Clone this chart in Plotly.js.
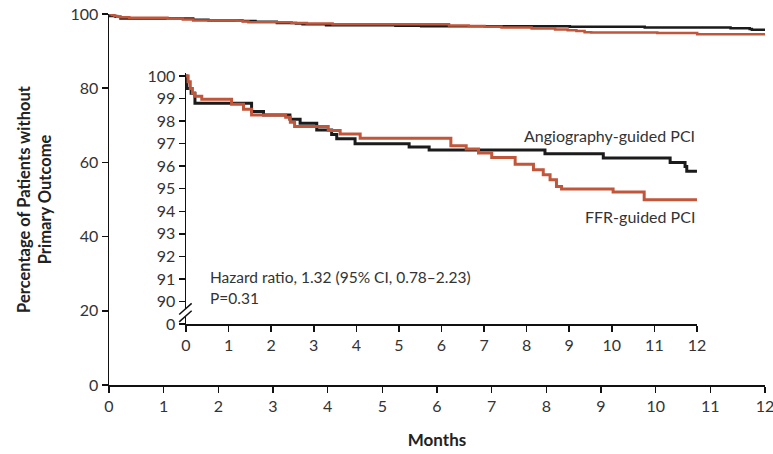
<!DOCTYPE html>
<html>
<head>
<meta charset="utf-8">
<script src="https://cdn.plot.ly/plotly-3.0.1.min.js"></script>
<style>html,body{margin:0;padding:0;background:#fff;}#chart{width:773px;height:454px;}</style>
</head>
<body>
<div id="chart"></div>
<script>
// Kaplan-Meier step data (months, % without primary outcome)
const angioMonths = [0, 0.02, 0.12, 0.21, 1.54, 1.82, 2.44, 2.68, 3.07, 3.42, 3.54, 3.97, 5.24, 5.71, 8.43, 9.80, 11.37, 11.72, 11.76, 12];
const angioValues = [100, 99.45, 99.23, 98.79, 98.42, 98.27, 98.08, 97.90, 97.60, 97.41, 97.22, 97.00, 96.85, 96.72, 96.55, 96.36, 96.16, 95.99, 95.77, 95.77];
const ffrMonths = [0, 0.05, 0.10, 0.15, 0.20, 0.37, 1.07, 1.35, 1.54, 2.34, 2.45, 2.55, 3.34, 3.62, 4.09, 6.22, 6.58, 6.87, 7.18, 7.73, 8.16, 8.39, 8.55, 8.70, 8.82, 10.03, 10.76, 12];
const ffrValues = [100, 99.75, 99.45, 99.25, 99.10, 98.97, 98.75, 98.53, 98.27, 98.17, 97.95, 97.76, 97.58, 97.43, 97.24, 96.91, 96.76, 96.58, 96.39, 96.09, 95.84, 95.62, 95.40, 95.10, 94.99, 94.86, 94.51, 94.51];

const monthTicks = [0,1,2,3,4,5,6,7,8,9,10,11,12];
const mainYTicks = [0,20,40,60,80,100];
const insetYTickVals = [89,90,91,92,93,94,95,96,97,98,99,100];
const insetYTickText = ["0","90","91","92","93","94","95","96","97","98","99","100"];

const seriesNames = ["Angiography-guided PCI", "FFR-guided PCI"];
const hazardText = ["Hazard ratio, 1.32 (95% CI, 0.78\u20132.23)", "P=0.31"];

const RED = "#c1563b";
const BLK = "#1b1b1b";
const FONT = "Lato, 'Open Sans', sans-serif";

const traces = [
  {x: angioMonths, y: angioValues, type: "scatter", mode: "lines", line: {shape: "hv", color: BLK, width: 2.5}, xaxis: "x", yaxis: "y", name: seriesNames[0], showlegend: false, hoverinfo: "skip"},
  {x: ffrMonths, y: ffrValues, type: "scatter", mode: "lines", line: {shape: "hv", color: RED, width: 2.5}, xaxis: "x", yaxis: "y", name: seriesNames[1], showlegend: false, hoverinfo: "skip"},
  {x: angioMonths, y: angioValues, type: "scatter", mode: "lines", line: {shape: "hv", color: BLK, width: 3}, xaxis: "x2", yaxis: "y2", name: seriesNames[0], showlegend: false, hoverinfo: "skip"},
  {x: ffrMonths, y: ffrValues, type: "scatter", mode: "lines", line: {shape: "hv", color: RED, width: 3}, xaxis: "x2", yaxis: "y2", name: seriesNames[1], showlegend: false, hoverinfo: "skip"}
];

const axisCommon = {
  showgrid: false, zeroline: false, showline: true, linecolor: "#111", linewidth: 1.5,
  ticks: "outside", ticklen: 6, tickwidth: 1.5, tickcolor: "#111",
  ticklabeloverflow: "allow",
  tickfont: {family: FONT, size: 16, color: "#333"}
};

const layout = {
  width: 773, height: 454,
  margin: {l: 109, r: 8, t: 14, b: 69},
  paper_bgcolor: "#fff", plot_bgcolor: "#fff",
  font: {family: FONT, color: "#333"},
  xaxis: Object.assign({}, axisCommon, {
    range: [0, 12], tickvals: monthTicks, domain: [0, 1], anchor: "y",
    title: {text: "Months", font: {family: FONT, size: 17, color: "#222", weight: "bold"}, standoff: 20}
  }),
  yaxis: Object.assign({}, axisCommon, {
    range: [0, 100], tickvals: mainYTicks, domain: [0, 1], anchor: "x",
    title: {text: "Percentage of Patients without<br>Primary Outcome", font: {family: FONT, size: 16.5, color: "#222", weight: "bold"}, standoff: 14}
  }),
  xaxis2: Object.assign({}, axisCommon, {
    range: [0, 12], tickvals: monthTicks, domain: [0.1174, 0.8963], anchor: "y2"
  }),
  yaxis2: Object.assign({}, axisCommon, {
    range: [89, 100.15], tickvals: insetYTickVals, ticktext: insetYTickText,
    domain: [0.1644, 0.842], anchor: "x2"
  }),
  annotations: [
    {xref: "x2", yref: "y2", x: 12, y: 97.34, text: seriesNames[0], showarrow: false, xanchor: "right", yanchor: "middle", font: {family: FONT, size: 16, color: "#333"}},
    {xref: "x2", yref: "y2", x: 12, y: 93.79, text: seriesNames[1], showarrow: false, xanchor: "right", yanchor: "middle", font: {family: FONT, size: 16, color: "#333"}},
    {xref: "x2", yref: "y2", x: 0.52, y: 91.1, text: hazardText[0], showarrow: false, xanchor: "left", yanchor: "middle", font: {family: FONT, size: 15.5, color: "#333"}},
    {xref: "x2", yref: "y2", x: 0.52, y: 90.15, text: hazardText[1], showarrow: false, xanchor: "left", yanchor: "middle", font: {family: FONT, size: 15.5, color: "#333"}}
  ],
  shapes: [
    // axis break gap and slashes
    {type: "rect", xref: "paper", yref: "paper", x0: 0.112, x1: 0.123, y0: 0.185, y1: 0.205, fillcolor: "#fff", line: {width: 0}, layer: "above"},
    {type: "line", xref: "paper", yref: "paper", x0: 0.107, y0: 0.170, x1: 0.126, y1: 0.200, line: {color: "#111", width: 1.5}, layer: "above"},
    {type: "line", xref: "paper", yref: "paper", x0: 0.107, y0: 0.190, x1: 0.126, y1: 0.220, line: {color: "#111", width: 1.5}, layer: "above"}
  ]
};

Plotly.newPlot("chart", traces, layout, {staticPlot: true, displayModeBar: false});
</script>
</body>
</html>
